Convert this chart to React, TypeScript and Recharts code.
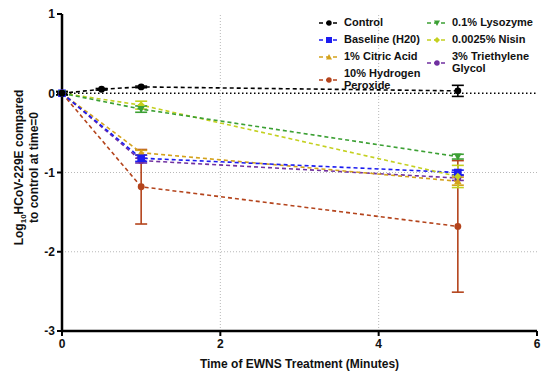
import React from 'react';
import { ComposedChart, Line, XAxis, YAxis, ReferenceLine, ErrorBar, Legend, Label } from 'recharts';

// time points (minutes)
const controlTimes = [0, 0.5, 1, 5];
const treatTimes = [0, 1, 5];

// log10 reduction values
const controlVals = [0, 0.05, 0.08, 0.03];
const controlErr = [0.02, 0.01, 0.01, 0.07];
const baselineVals = [0, -0.82, -1.0];
const baselineErr = [0.02, 0.04, 0.03];
const citricVals = [0, -0.75, -1.11];
const citricErr = [0.02, 0.03, 0.05];
const peroxideVals = [0, -1.18, -1.68];
const peroxideErr = [0.02, 0.47, 0.83];
const lysozymeVals = [0, -0.2, -0.8];
const lysozymeErr = [0.02, 0.04, 0.03];
const nisinVals = [0, -0.15, -1.05];
const nisinErr = [0.02, 0.05, 0.14];
const glycolVals = [0, -0.85, -1.07];
const glycolErr = [0.02, 0.03, 0.03];

const xTicks = [0, 2, 4, 6];
const yTicks = [-3, -2, -1, 0, 1];

type Shape = 'circle' | 'square' | 'triUp' | 'triDown' | 'diamond';

interface Series {
  name: string[];
  color: string;
  shape: Shape;
  data: { x: number; y: number; err: number }[];
}

const build = (xs: number[], ys: number[], es: number[]) =>
  xs.map((x, i) => ({ x, y: ys[i], err: es[i] }));

const control: Series = { name: ['Control'], color: '#000000', shape: 'circle', data: build(controlTimes, controlVals, controlErr) };
const baseline: Series = { name: ['Baseline (H20)'], color: '#1c1cf0', shape: 'square', data: build(treatTimes, baselineVals, baselineErr) };
const citric: Series = { name: ['1% Citric Acid'], color: '#d4a21c', shape: 'triUp', data: build(treatTimes, citricVals, citricErr) };
const peroxide: Series = { name: ['10% Hydrogen', 'Peroxide'], color: '#b4441c', shape: 'circle', data: build(treatTimes, peroxideVals, peroxideErr) };
const lysozyme: Series = { name: ['0.1% Lysozyme'], color: '#3ca034', shape: 'triDown', data: build(treatTimes, lysozymeVals, lysozymeErr) };
const nisin: Series = { name: ['0.0025% Nisin'], color: '#c4d020', shape: 'diamond', data: build(treatTimes, nisinVals, nisinErr) };
const glycol: Series = { name: ['3% Triethylene', 'Glycol'], color: '#7030a0', shape: 'circle', data: build(treatTimes, glycolVals, glycolErr) };

const drawOrder = [peroxide, glycol, citric, baseline, nisin, lysozyme, control];
const legendCols = [[control, baseline, citric, peroxide], [lysozyme, nisin, glycol]];

const FONT = '"Liberation Sans", Arial, sans-serif';

const Marker = ({ cx, cy, shape, color, s = 3.8 }: { cx: number; cy: number; shape: Shape; color: string; s?: number }) => {
  if (shape === 'square') return <rect x={cx - s} y={cy - s} width={s * 2} height={s * 2} fill={color} />;
  if (shape === 'triUp') return <polygon points={`${cx},${cy - s} ${cx + s},${cy + s * 0.8} ${cx - s},${cy + s * 0.8}`} fill={color} />;
  if (shape === 'triDown') return <polygon points={`${cx - s},${cy - s * 0.8} ${cx + s},${cy - s * 0.8} ${cx},${cy + s}`} fill={color} />;
  if (shape === 'diamond') return <polygon points={`${cx},${cy - s} ${cx + s},${cy} ${cx},${cy + s} ${cx - s},${cy}`} fill={color} />;
  return <circle cx={cx} cy={cy} r={s * 0.9} fill={color} />;
};

const LegendBox = () => (
  <div style={{ display: 'flex', fontFamily: FONT, fontWeight: 'bold', fontSize: 11, color: '#111' }}>
    {legendCols.map((col, ci) => (
      <div key={ci} style={{ width: ci === 0 ? 108 : 110 }}>
        {col.map((s) => (
          <div key={s.name[0]} style={{ display: 'flex', alignItems: 'center', lineHeight: '11.5px', marginBottom: 5.5 }}>
            <svg width={22} height={10} style={{ marginRight: 4, flexShrink: 0 }}>
              <line x1={1} y1={5} x2={21} y2={5} stroke={s.color} strokeWidth={1.6} strokeDasharray="4 3" />
              <Marker cx={11} cy={5} shape={s.shape} color={s.color} s={3} />
            </svg>
            <div>
              {s.name.map((n) => (
                <div key={n}>{n}</div>
              ))}
            </div>
          </div>
        ))}
      </div>
    ))}
  </div>
);

const YLabel = (props: any) => {
  const vb = props.viewBox || { x: 0, y: 14, width: 62, height: 317 };
  const cy = vb.y + vb.height / 2 - 5;
  return (
    <g fontFamily={FONT} fontWeight="bold" fontSize={12} fill="#111">
      <text x={0} y={0} textAnchor="middle" transform={`translate(23,${cy}) rotate(-90)`}>
        Log<tspan fontSize={8} dy={3}>10</tspan>
        <tspan dy={-3}>HCoV-229E compared</tspan>
      </text>
      <text x={0} y={0} textAnchor="middle" transform={`translate(38,${cy}) rotate(-90)`}>
        to control at time=0
      </text>
    </g>
  );
};

export default function App() {
  const tickStyle = { fontFamily: FONT, fontWeight: 'bold' as const, fontSize: 12, fill: '#111' };
  const axisLine = { stroke: '#000', strokeWidth: 2.5 };
  return (
    <div style={{ position: 'absolute', left: 0, top: 0, background: '#fff' }}>
      <ComposedChart width={550} height={376} margin={{ top: 14, right: 13, bottom: 0, left: 0 }}>
        <XAxis
          xAxisId="bottom"
          dataKey="x"
          type="number"
          domain={[0, 6]}
          ticks={xTicks}
          height={45}
          tickSize={5}
          tickMargin={3}
          axisLine={axisLine}
          tickLine={{ stroke: '#000', strokeWidth: 2 }}
          tick={tickStyle}
        >
          <Label value="Time of EWNS Treatment (Minutes)" position="insideBottom" offset={8} style={{ fontFamily: FONT, fontWeight: 'bold', fontSize: 12, fill: '#111' }} />
        </XAxis>
        <XAxis
          xAxisId="top"
          orientation="top"
          dataKey="x"
          type="number"
          domain={[0, 6]}
          ticks={xTicks}
          height={0}
          tickSize={5}
          axisLine={axisLine}
          tickLine={{ stroke: '#000', strokeWidth: 2 }}
          tick={false}
        />
        <YAxis
          yAxisId="left"
          type="number"
          domain={[-3, 1]}
          ticks={yTicks}
          width={62}
          tickSize={5}
          tickMargin={2}
          axisLine={axisLine}
          tickLine={{ stroke: '#000', strokeWidth: 2 }}
          tick={tickStyle}
        >
          <Label content={YLabel} />
        </YAxis>
        <YAxis
          yAxisId="right"
          orientation="right"
          type="number"
          domain={[-3, 1]}
          ticks={yTicks}
          width={0}
          tickSize={5}
          axisLine={axisLine}
          tickLine={{ stroke: '#000', strokeWidth: 2 }}
          tick={false}
        />
        {[2, 4].map((v) => (
          <ReferenceLine key={`vx${v}`} xAxisId="bottom" yAxisId="left" x={v} stroke="#b8b8b8" strokeDasharray="1 2" />
        ))}
        {[-1, -2].map((v) => (
          <ReferenceLine key={`hy${v}`} xAxisId="bottom" yAxisId="left" y={v} stroke="#b8b8b8" strokeDasharray="1 2" />
        ))}
        <ReferenceLine xAxisId="bottom" yAxisId="left" y={0} stroke="#000" strokeWidth={1.5} strokeDasharray="1.5 2.5" />
        {drawOrder.map((s) => (
          <Line
            key={s.name[0]}
            xAxisId="bottom"
            yAxisId="left"
            data={s.data}
            dataKey="y"
            name={s.name.join(' ')}
            stroke={s.color}
            strokeWidth={1.6}
            strokeDasharray="4 3"
            isAnimationActive={false}
            dot={(p: any) => <Marker key={`${s.name[0]}-${p.index}`} cx={p.cx} cy={p.cy} shape={s.shape} color={s.color} />}
            activeDot={false}
            legendType="none"
          >
            <ErrorBar dataKey="err" direction="y" width={6} stroke={s.color} strokeWidth={1.6} />
          </Line>
        ))}
        <Legend
          layout="vertical"
          align="center"
          verticalAlign="middle"
          content={LegendBox}
          wrapperStyle={{ top: 17, left: 318, width: 230 }}
        />
      </ComposedChart>
    </div>
  );
}
